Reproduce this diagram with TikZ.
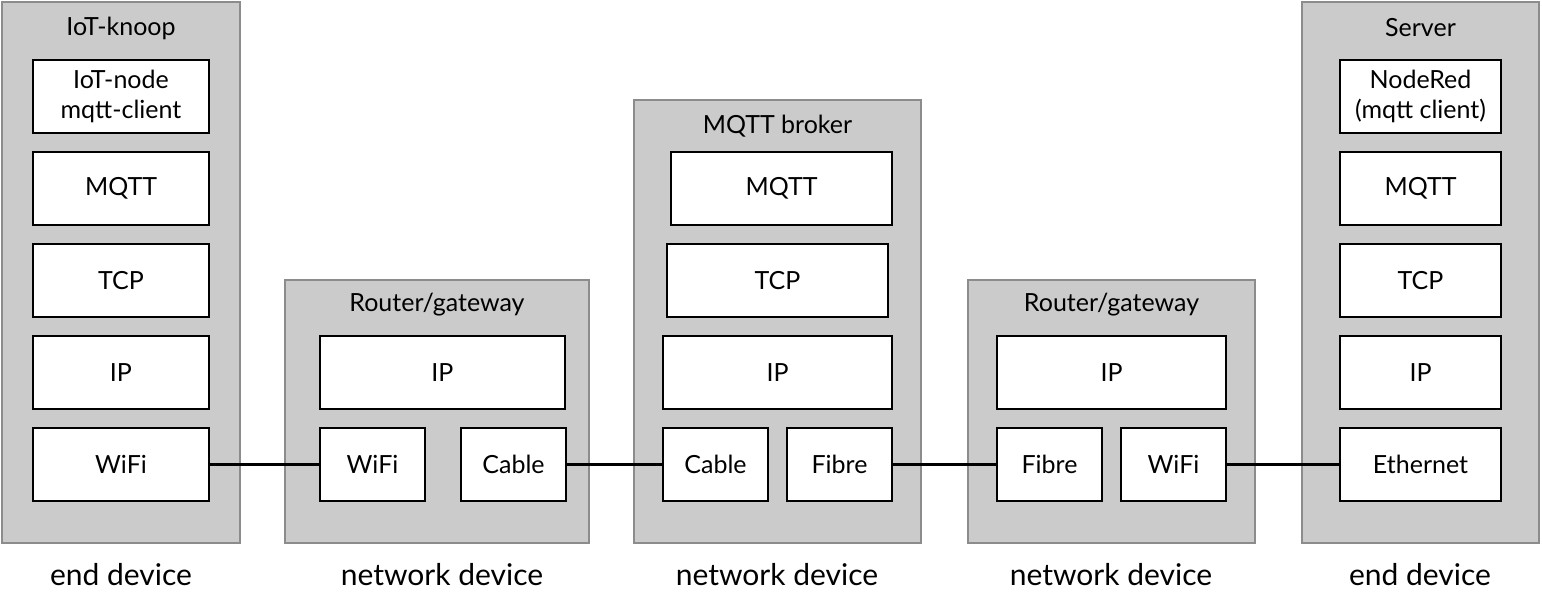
\documentclass[tikz,border=0pt]{standalone}
\usepackage{fontspec}
\setmainfont{Lato}
\usepackage{tikz}
\definecolor{devfill}{HTML}{CBCBCB}
\definecolor{devline}{HTML}{8C8C8C}
\tikzset{
  device/.style={draw=devline, fill=devfill, line width=1pt, inner sep=0pt},
  layer/.style={draw=black, fill=white, line width=1pt, inner sep=0pt,
    minimum height=36.5pt, align=center, font=\fontsize{12.5}{15}\selectfont},
  devtitle/.style={font=\fontsize{12.5}{15}\selectfont},
  role/.style={font=\fontsize{15}{18}\selectfont},
  link/.style={line width=1.6pt, line cap=round}
}
\begin{document}
\begin{tikzpicture}[x=0.5pt, y=-0.5pt]
\useasboundingbox (0,0) rectangle (1542,602);

% Devices
\node at (121,272.5) (iot) [device, minimum width=119pt, minimum height=270.5pt] {};
\node at (437,411.5) (rtA) [device, minimum width=152pt, minimum height=131.5pt] {};
\node at (777.5,321.5) (broker) [device, minimum width=143.5pt, minimum height=221.5pt] {};
\node at (1111.5,411.5) (rtB) [device, minimum width=143.5pt, minimum height=131.5pt] {};
\node at (1420.5,272.5) (server) [device, minimum width=118.5pt, minimum height=270.5pt] {};

% Titles
\node at (121,28) (iotT) [devtitle] {IoT-knoop};
\node at (437,305) (rtAT) [devtitle] {Router/gateway};
\node at (777.5,126) (brokerT) [devtitle] {MQTT broker};
\node at (1111.5,305) (rtBT) [devtitle] {Router/gateway};
\node at (1420.5,28) (serverT) [devtitle] {Server};

% IoT-knoop stack
\node at (121,96.5) (iotApp) [layer, minimum width=88pt] {IoT-node\\mqtt-client};
\node at (121,188.5) (iotMqtt) [layer, minimum width=88pt] {MQTT};
\node at (121,280.5) (iotTcp) [layer, minimum width=88pt] {TCP};
\node at (121,372.5) (iotIp) [layer, minimum width=88pt] {IP};
\node at (121,464.5) (iotWifi) [layer, minimum width=88pt] {WiFi};

% first router
\node at (442.5,372.5) (rtAIp) [layer, minimum width=122.5pt] {IP};
\node at (372.5,464.5) (rtAWifi) [layer, minimum width=52.5pt] {WiFi};
\node at (513.5,464.5) (rtACable) [layer, minimum width=52.5pt] {Cable};

% broker stack
\node at (781.5,188.5) (brokerMqtt) [layer, minimum width=110.5pt] {MQTT};
\node at (777.5,280.5) (brokerTcp) [layer, minimum width=110.5pt] {TCP};
\node at (777.5,372.5) (brokerIp) [layer, minimum width=114.5pt] {IP};
\node at (715.5,464.5) (brokerCable) [layer, minimum width=52.5pt] {Cable};
\node at (839.5,464.5) (brokerFibre) [layer, minimum width=52.5pt] {Fibre};

% second router
\node at (1111.5,372.5) (rtBIp) [layer, minimum width=114.5pt] {IP};
\node at (1049.5,464.5) (rtBFibre) [layer, minimum width=52.5pt] {Fibre};
\node at (1173.5,464.5) (rtBWifi) [layer, minimum width=52.5pt] {WiFi};

% server stack
\node at (1420.5,96.5) (serverApp) [layer, minimum width=80.5pt] {NodeRed\\(mqtt client)};
\node at (1420.5,188.5) (serverMqtt) [layer, minimum width=80.5pt] {MQTT};
\node at (1420.5,280.5) (serverTcp) [layer, minimum width=80.5pt] {TCP};
\node at (1420.5,372.5) (serverIp) [layer, minimum width=80.5pt] {IP};
\node at (1420.5,464.5) (serverEth) [layer, minimum width=80.5pt] {Ethernet};

% Roles
\node at (121,575) (iotR) [role] {end device};
\node at (442,575) (rtAR) [role] {network device};
\node at (777,575) (brokerR) [role] {network device};
\node at (1111,575) (rtBR) [role] {network device};
\node at (1420,575) (serverR) [role] {end device};

% Links
\draw[link] (iotWifi.east) -- (rtAWifi.west);
\draw[link] (rtACable.east) -- (brokerCable.west);
\draw[link] (brokerFibre.east) -- (rtBFibre.west);
\draw[link] (rtBWifi.east) -- (serverEth.west);

\end{tikzpicture}
\end{document}
